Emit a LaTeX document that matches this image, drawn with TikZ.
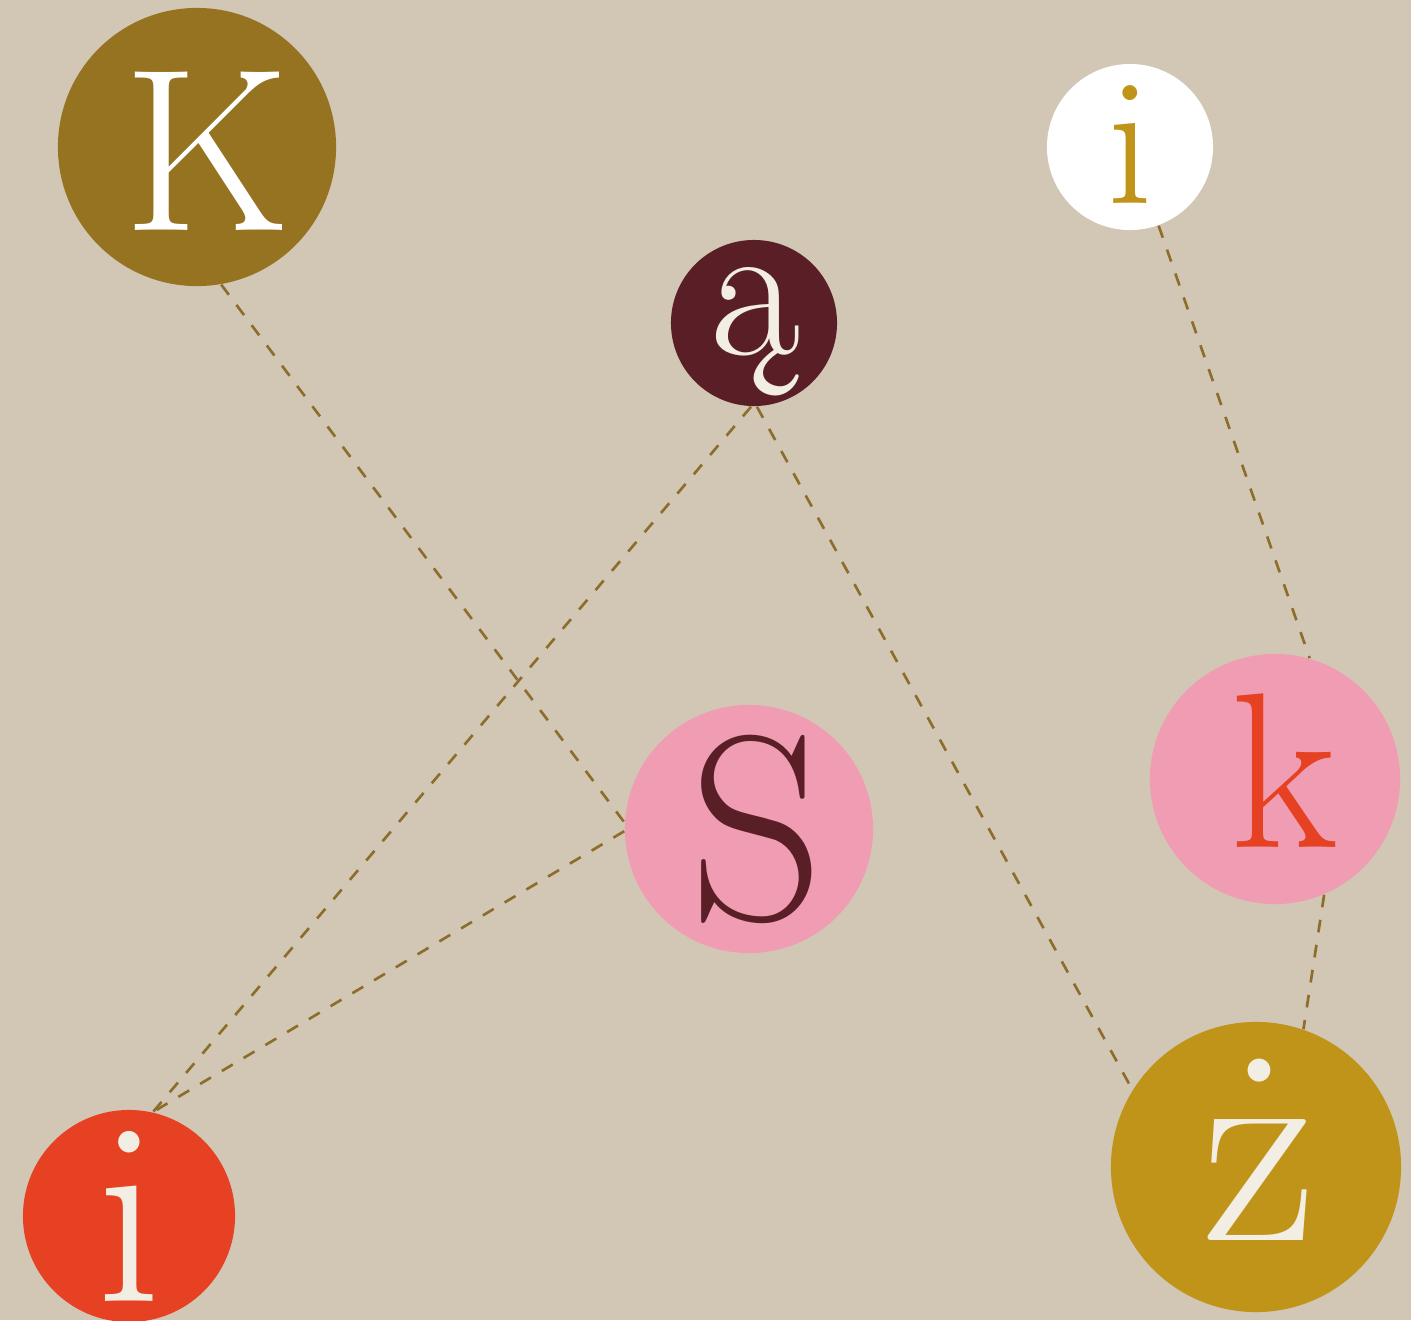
\documentclass[tikz,border=0pt]{standalone}
\usepackage{fontspec}
\usepackage{tikz}
\usepackage{xcolor}
\usetikzlibrary{positioning}
\definecolor{paper}{HTML}{D2C6B5}
\definecolor{olivebrown}{HTML}{957321}
\definecolor{maroon}{HTML}{5A1F26}
\definecolor{gold}{HTML}{C09418}
\definecolor{rose}{HTML}{F09DB3}
\definecolor{vermil}{HTML}{E64122}
\definecolor{cream}{HTML}{F2EEE4}
\definecolor{dashcol}{HTML}{8C6D2A}

\begin{document}
\begin{tikzpicture}[x=0.01cm,y=-0.01cm,
    disc/.style={circle,inner sep=0pt,minimum size=#1},
    letter/.style={inner sep=0pt,font=\fontsize{#1}{#1}\selectfont},
    link/.style={draw=dashcol,line width=0.75pt,dash pattern=on 3.6pt off 3.6pt}]
      \useasboundingbox (0,0) rectangle (1411,1320);
      \fill[paper] (0,0) rectangle (1411,1320);%背景
      \node[disc=2.78cm,fill=olivebrown,
        label={[letter=66,text=white,xshift=0.1cm,yshift=-0.045cm]center:K}] (K) at (197,147) {};
      \node[disc=1.66cm,fill=maroon,
        label={[letter=56,text=cream,xshift=0.02cm,yshift=-0.09cm]center:ą}] (a) at (754,323) {};
      \node[disc=1.66cm,fill=white,
        label={[letter=52,text=gold,yshift=0.02cm]center:i}] (it) at (1130,147) {};
      \node[disc=2.48cm,fill=rose,
        label={[letter=75,text=maroon,xshift=0.08cm]center:S}] (S) at (749,829) {};
      \node[disc=2.50cm,fill=rose,
        label={[letter=63,text=vermil,xshift=0.09cm,yshift=0.08cm]center:k}] (k) at (1275,779) {};
      \node[disc=2.90cm,fill=gold,
        label={[letter=80,text=cream,xshift=0.04cm,yshift=0.17cm]center:ż}] (z) at (1256,1167) {};
      \node[disc=2.12cm,fill=vermil,
        label={[letter=75,text=cream]center:i}] (ib) at (129,1216) {};
      % dashed links
      \draw[link] (K.280) -- (S.177);
      \draw[link] (a.268) -- (ib.77);
      \draw[link] (a.272) -- (z.148);
      \draw[link] (it.290) -- (k.74);
      \draw[link] (S.181) -- (ib.77);
      \draw[link] (k.293) -- (z.71);
    \end{tikzpicture}
\end{document}
